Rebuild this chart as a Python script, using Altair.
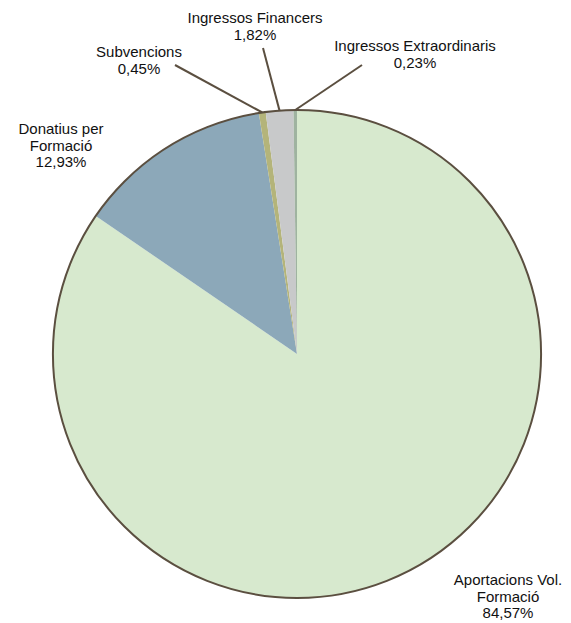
import altair as alt
import pandas as pd
import math

# Data
categories = ["Aportacions Vol. Formació", "Donatius per Formació", "Subvencions",
              "Ingressos Financers", "Ingressos Extraordinaris"]
values = [84.57, 12.93, 0.45, 1.82, 0.23]
label_lines = [["Aportacions Vol.", "Formació", "84,57%"],
               ["Donatius per", "Formació", "12,93%"],
               ["Subvencions", "0,45%"],
               ["Ingressos Financers", "1,82%"],
               ["Ingressos Extraordinaris", "0,23%"]]
colors = ["#D7E9CE", "#8CA8B9", "#B4B47A", "#C8C9CA", "#9FB3A0"]

# Layout (chart pixel space)
W, H = 555, 614
CX, CY, R = 289, 346, 244
label_pos = [(500, 572), (53, 121), (131, 44), (247, 10), (407, 38)]
leader_out = [None, None, (167, 57), (255, 40), (354, 57)]

df = pd.DataFrame({"cat": categories, "val": values, "order": range(len(values))})

total = sum(values)
cum = 0
rules = []
for i, v in enumerate(values):
    mid = (cum + v / 2) / total * 2 * math.pi
    cum += v
    if leader_out[i] is None:
        continue
    xi = CX + R * math.sin(mid)
    yi = CY - R * math.cos(mid)
    rules.append({"x": leader_out[i][0], "y": leader_out[i][1], "x2": xi, "y2": yi})
rules_df = pd.DataFrame(rules)

labels_df = pd.DataFrame({"txt": label_lines,
                          "x": [p[0] for p in label_pos],
                          "y": [p[1] for p in label_pos]})

xs = alt.Scale(domain=[0, W], range=[0, W])
ys = alt.Scale(domain=[0, H], range=[0, H])

pie = alt.Chart(df).mark_arc(outerRadius=R, stroke=None).encode(
    theta=alt.Theta("val:Q", stack=True),
    order=alt.Order("order:Q"),
    color=alt.Color("cat:N", scale=alt.Scale(domain=categories, range=colors), legend=None),
    x=alt.value(CX), y=alt.value(CY),
)

outline = alt.Chart(pd.DataFrame({"v": [total]})).mark_arc(
    outerRadius=R, fillOpacity=0, stroke="#5B4F40", strokeWidth=2
).encode(theta=alt.Theta("v:Q"), x=alt.value(CX), y=alt.value(CY))

leaders = alt.Chart(rules_df).mark_rule(color="#5B4F40", strokeWidth=2).encode(
    x=alt.X("x:Q", scale=xs, axis=None), y=alt.Y("y:Q", scale=ys, axis=None),
    x2="x2:Q", y2="y2:Q",
)

texts = alt.Chart(labels_df).mark_text(
    font="Liberation Sans", fontSize=15, lineHeight=16.5, align="center",
    baseline="middle", color="#111111"
).encode(
    x=alt.X("x:Q", scale=xs, axis=None), y=alt.Y("y:Q", scale=ys, axis=None),
    text="txt",
)

chart = alt.layer(pie, outline, leaders, texts).resolve_scale(
    theta="independent"
).properties(
    width=W, height=H, padding=0, autosize=alt.AutoSizeParams(type="none")
).configure_view(stroke=None)

chart.save("out.html", embed_options={"renderer": "svg", "actions": False})
